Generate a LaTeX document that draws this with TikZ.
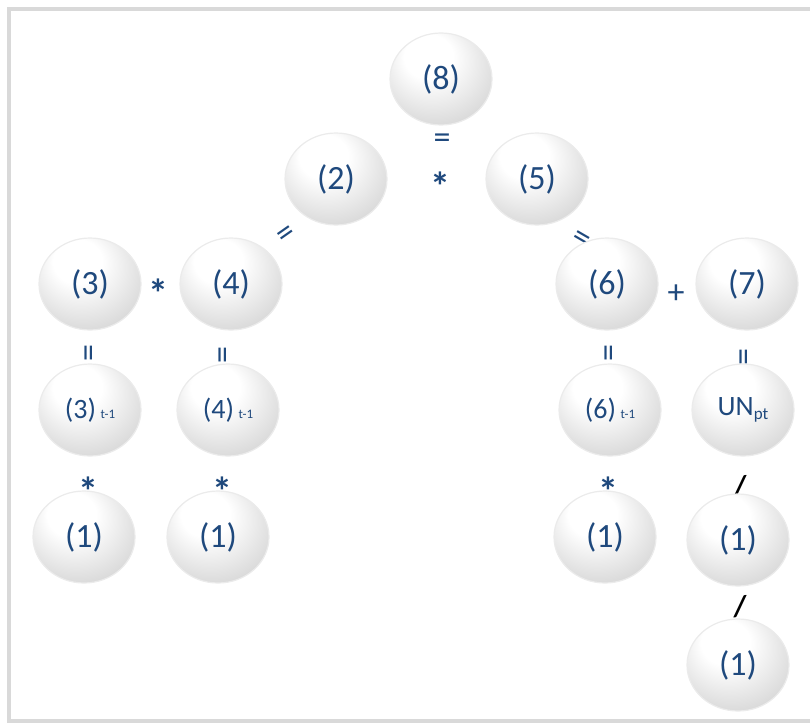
\documentclass[tikz,border=0pt]{standalone}
\usepackage{fontspec}
\setmainfont{Carlito}
\usepackage{tikz}
\usepackage{xcolor}
\usetikzlibrary{shapes.geometric}

\definecolor{textblue}{RGB}{31,73,125}
\definecolor{framegray}{RGB}{217,217,217}

\pgfdeclareradialshading{bubbleshade}{\pgfpoint{-8bp}{16bp}}{%
  color(0bp)=(white); color(12bp)=(white);
  color(32bp)=(white!85!black); color(44bp)=(white!74!black); color(50bp)=(white!80!black)}

\tikzset{
  bubble/.style={ellipse, minimum width=102pt, minimum height=92pt, inner sep=0pt,
    shading=bubbleshade, draw=black!8, line width=1.2pt, text=textblue,
    font=\fontsize{34}{36}\selectfont},
  smallbubble/.style={bubble, font=\fontsize{28}{30}\selectfont},
  op/.style={text=textblue, inner sep=0pt, font=\fontsize{34}{36}\selectfont},
  starop/.style={op, font=\fontsize{40}{42}\selectfont\bfseries},
  slash/.style={op, text=black, font=\fontsize{30}{32}\selectfont\bfseries}
}

\newcommand{\tminus}{\,{\fontsize{13}{15}\selectfont t-1}}

\begin{document}
\begin{tikzpicture}[x=1pt,y=-1pt]
            \useasboundingbox (0,0) rectangle (810,722);
            \draw[framegray, line width=4pt] (830,9) -- (9,9) -- (9,721) -- (830,721);

            % top of the tree
            \node[bubble] (eight) at (441,79) {(8)};
            \node[op] (eqtop) at (442,141) {=};
            \node[starop] (startop) at (440,186) {*};
            \node[bubble] (two) at (336,179) {(2)};
            \node[bubble] (five) at (537,179) {(5)};
            \node[op, rotate=35] (eqleft) at (287,236) {=};
            \node[op, rotate=-30] (eqright) at (580,240) {=};

            % second row
            \node[bubble] (three) at (90,284) {(3)};
            \node[bubble] (four) at (231,284) {(4)};
            \node[starop] (starmid) at (158,293) {*};
            \node[bubble] (six) at (607,284) {(6)};
            \node[bubble] (seven) at (747,284) {(7)};
            \node[op] (plus) at (676,294) {+};

            \foreach \x/\y/\n in {92/353/a, 226/355/b, 612/353/c, 747/357/d}
            {
                \node[op, rotate=90] (eq\n) at (\x,\y) {=};
            }

            % previous period
            \node[smallbubble] (threeprev) at (90,410) {(3)\tminus};
            \node[smallbubble] (fourprev) at (228,410) {(4)\tminus};
            \node[smallbubble] (sixprev) at (610,410) {(6)\tminus};
            \node[smallbubble] (unpt) at (743,410) {UN\raisebox{-4pt}{\fontsize{17}{19}\selectfont pt}};

            \foreach \x/\n in {88/a, 222/b, 608/c}
            {
                \node[starop] (star\n) at (\x,491) {*};
            }
            \node[slash] (slashone) at (740,487) {/};
            \node[slash] (slashtwo) at (740,607) {/};

            % ones
            \foreach \x/\y/\n in {84/537/a, 218/537/b, 605/537/c, 738/540/d, 738/665/e}
            {
                \node[bubble] (one\n) at (\x,\y) {(1)};
            }
\end{tikzpicture}
\end{document}
